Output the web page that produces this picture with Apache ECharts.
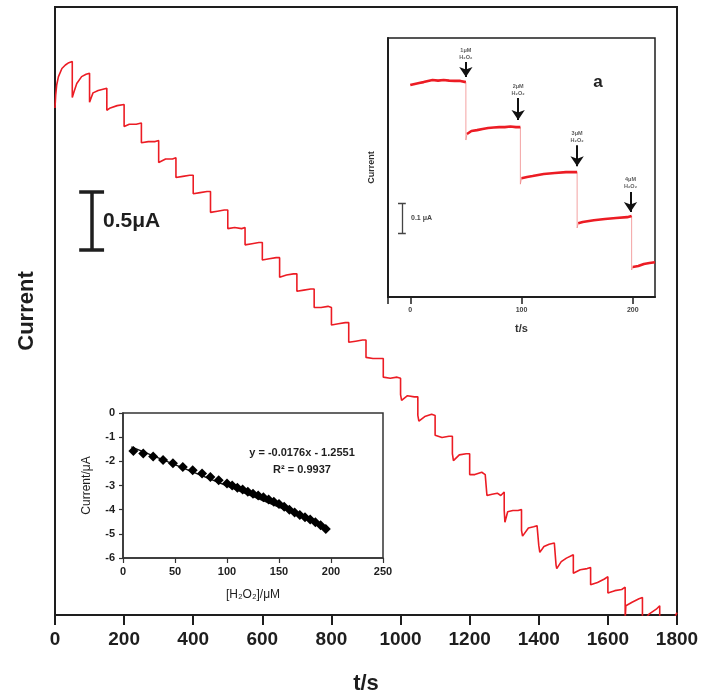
<!DOCTYPE html>
<html>
<head>
<meta charset="utf-8">
<script src="https://cdn.jsdelivr.net/npm/echarts@6.0.0/dist/echarts.min.js"></script>
<style>
  html, body { margin: 0; padding: 0; background: #fff; }
  #chart { width: 701px; height: 700px; }
</style>
</head>
<body>
<div id="chart"></div>
<script>
// main amperometric trace (t in s, current in uA, relative)
const mainTime = [
  0, 2, 5, 10, 20, 30, 40, 50,
  50, 55, 63, 77, 90, 100,
  100, 105, 110, 125, 150,
  150, 160, 180, 200,
  200, 215, 235, 250,
  250, 270, 290, 300,
  300, 320, 340, 350,
  350, 370, 390, 400,
  400, 420, 440, 450,
  450, 470, 490, 500,
  500, 520, 540, 550,
  550, 570, 590, 600,
  600, 620, 640, 650,
  650, 670, 690, 700,
  700, 720, 740, 750,
  750, 770, 790, 800,
  800, 820, 840, 850,
  850, 870, 890, 900,
  900, 920, 940, 950,
  950, 970, 990, 1000,
  1000, 1003, 1020, 1040, 1050,
  1050, 1053, 1070, 1090, 1100,
  1100, 1120, 1140, 1150,
  1150, 1153, 1170, 1190, 1200,
  1200, 1215, 1235, 1245, 1250,
  1250, 1265, 1280, 1290, 1300,
  1300, 1302, 1310, 1325, 1340, 1350,
  1350, 1353, 1370, 1385, 1395, 1400,
  1400, 1403, 1415, 1430, 1445, 1450,
  1450, 1452, 1465, 1480, 1500,
  1500, 1520, 1540, 1550,
  1550, 1570, 1590, 1600,
  1600, 1620, 1640, 1650,
  1650, 1652, 1670, 1690, 1700,
  1700, 1720, 1740, 1750,
  1750, 1770, 1790, 1800
];
const mainCurrent = [
  -0.87, -0.76, -0.67, -0.60, -0.53, -0.50, -0.48, -0.47,
  -0.78, -0.73, -0.66, -0.60, -0.58, -0.57,
  -0.82, -0.78, -0.74, -0.72, -0.70,
  -0.89, -0.87, -0.85, -0.84,
  -1.03, -1.01, -1.01, -1.00,
  -1.17, -1.16, -1.16, -1.15,
  -1.34, -1.31, -1.31, -1.30,
  -1.47, -1.46, -1.45, -1.45,
  -1.61, -1.60, -1.59, -1.59,
  -1.77, -1.76, -1.75, -1.75,
  -1.91, -1.90, -1.91, -1.90,
  -2.05, -2.04, -2.03, -2.03,
  -2.18, -2.17, -2.16, -2.16,
  -2.33, -2.31, -2.30, -2.30,
  -2.45, -2.44, -2.43, -2.43,
  -2.59, -2.59, -2.58, -2.59,
  -2.74, -2.73, -2.72, -2.72,
  -2.89, -2.88, -2.87, -2.87,
  -3.02, -3.03, -3.03, -3.03,
  -3.19, -3.20, -3.19, -3.20,
  -3.34, -3.39, -3.35, -3.36, -3.36,
  -3.52, -3.57, -3.53, -3.51, -3.52,
  -3.69, -3.71, -3.70, -3.70,
  -3.85, -3.91, -3.86, -3.85, -3.85,
  -4.03, -4.03, -4.01, -4.03, -4.02,
  -4.21, -4.20, -4.19, -4.21, -4.18,
  -4.34, -4.44, -4.35, -4.34, -4.34, -4.33,
  -4.51, -4.56, -4.49, -4.48, -4.47, -4.47,
  -4.64, -4.70, -4.65, -4.63, -4.62, -4.62,
  -4.81, -4.84, -4.78, -4.75, -4.72,
  -4.88, -4.85, -4.84, -4.83,
  -4.98, -4.96, -4.93, -4.91,
  -5.05, -5.03, -5.02, -5.00,
  -5.28, -5.16, -5.13, -5.10, -5.09,
  -5.30, -5.23, -5.19, -5.16,
  -5.37, -5.35, -5.28, -5.22
];
const mainTicks = ['0', '200', '400', '600', '800', '1000', '1200', '1400', '1600', '1800'];

// inset a: first four additions
const insetTime = [
  [0, 4, 8, 12, 16, 20, 25, 30, 35, 40, 45, 50],
  [51, 55, 60, 65, 70, 75, 80, 85, 90, 95, 99],
  [100, 105, 110, 120, 130, 140, 150],
  [151, 155, 165, 175, 185, 195, 199],
  [200, 205, 210, 215, 220]
];
const insetCurrent = [
  [-0.157, -0.153, -0.150, -0.147, -0.143, -0.140, -0.142, -0.140, -0.142, -0.143, -0.143, -0.147],
  [-0.320, -0.310, -0.307, -0.303, -0.300, -0.298, -0.297, -0.297, -0.295, -0.297, -0.297],
  [-0.467, -0.463, -0.460, -0.453, -0.450, -0.447, -0.447],
  [-0.617, -0.613, -0.607, -0.603, -0.600, -0.597, -0.593],
  [-0.763, -0.760, -0.753, -0.750, -0.747]
];
const insetSpike = [-0.340, -0.487, -0.633, -0.773];
const arrowTime = [50, 97, 150, 198];
const arrowTop = [-0.080, -0.200, -0.357, -0.513];
const arrowBottom = [-0.130, -0.273, -0.427, -0.580];
const arrowText = ['1μM', '2μM', '3μM', '4μM'];

// calibration inset
const calConc = [10, 19.5, 29, 38.5, 48, 57.5, 67, 76, 84, 92, 100,
  105, 110, 115, 120, 125, 130, 135, 140, 145, 150, 155, 160, 165, 170, 175, 180, 185, 190, 195];
const calCurrent = [-1.57, -1.68, -1.80, -1.94, -2.08, -2.23, -2.37, -2.50, -2.65, -2.78, -2.92,
  -3.00, -3.09, -3.17, -3.26, -3.34, -3.41, -3.49, -3.58, -3.67, -3.77, -3.88, -4.00, -4.12, -4.22,
  -4.31, -4.41, -4.52, -4.64, -4.80];
const trendConc = [8, 196];
const trendCurrent = [-1.40, -4.70];

const FONT = 'Arial, "Liberation Sans", Helvetica, sans-serif';
const RED = '#ec1c24';
const INK = '#1e1e1e';

const chart = echarts.init(document.getElementById('chart'), null, { renderer: 'canvas' });

const insetSeries = insetTime.map((ts, k) => ({
  type: 'line',
  xAxisIndex: 1,
  yAxisIndex: 1,
  showSymbol: false,
  data: ts.map((t, i) => [t, insetCurrent[k][i]]),
  lineStyle: { color: RED, width: 2.6 },
  z: 5
}));

const insetDrops = insetSpike.map((s, k) => {
  const ts = insetTime[k];
  const tEnd = ts[ts.length - 1];
  const vEnd = insetCurrent[k][ts.length - 1];
  return {
    coords: [[tEnd, vEnd], [tEnd, s], [insetTime[k + 1][0], insetCurrent[k + 1][0]]]
  };
});

const option = {
  animation: false,
  backgroundColor: '#fff',
  textStyle: { fontFamily: FONT },
  grid: [
    { left: 55, top: 7, width: 622, height: 608, show: true, borderColor: INK, borderWidth: 2,
      containLabel: false, outerBoundsMode: 'none' },
    { left: 388, top: 38, width: 267, height: 259, show: true, borderColor: INK, borderWidth: 1.5,
      backgroundColor: '#fff', containLabel: false, outerBoundsMode: 'none' },
    { left: 123, top: 413, width: 260, height: 145, show: true, borderColor: '#333', borderWidth: 1.5,
      backgroundColor: '#fff', containLabel: false, outerBoundsMode: 'none' }
  ],
  xAxis: [
    {
      gridIndex: 0, type: 'value', min: 0, max: 1800, interval: 200,
      axisLine: { show: true, onZero: false, lineStyle: { color: INK, width: 2 } },
      axisTick: { show: true, length: 10, lineStyle: { color: INK, width: 2 } },
      axisLabel: {
        fontSize: 19, fontWeight: 'bold', color: INK, margin: 15, fontFamily: FONT,
        showMinLabel: true, showMaxLabel: true,
        formatter: (v) => mainTicks[Math.round(v / 200)]
      },
      splitLine: { show: false },
      name: 't/s', nameLocation: 'middle', nameGap: 58,
      nameTextStyle: { fontSize: 22, fontWeight: 'bold', color: INK, fontFamily: FONT }
    },
    {
      gridIndex: 1, type: 'value', min: -20, max: 220,
      axisLine: { show: true, onZero: false, lineStyle: { color: INK, width: 2 } },
      axisTick: { show: true, length: 7, customValues: [-20, 0, 100, 200], lineStyle: { color: INK, width: 1.5 } },
      axisLabel: { fontSize: 7, fontWeight: 'bold', color: '#444', margin: 10, customValues: [0, 100, 200] },
      splitLine: { show: false },
      name: 't/s', nameLocation: 'middle', nameGap: 26,
      nameTextStyle: { fontSize: 11, fontWeight: 'bold', color: '#333' }
    },
    {
      gridIndex: 2, type: 'value', min: 0, max: 250, interval: 50,
      axisLine: { show: true, onZero: false, lineStyle: { color: '#333', width: 1.5 } },
      axisTick: { show: true, length: 5, lineStyle: { color: '#333', width: 1.2 } },
      axisLabel: { fontSize: 11, fontWeight: 'bold', color: INK, margin: 8, showMinLabel: true, showMaxLabel: true },
      splitLine: { show: false },
      name: '[H₂O₂]/μM', nameLocation: 'middle', nameGap: 31,
      nameTextStyle: { fontSize: 12, color: INK }
    }
  ],
  yAxis: [
    {
      gridIndex: 0, type: 'value', min: -5.24, max: 0,
      axisLine: { show: true, onZero: false, lineStyle: { color: INK, width: 2 } },
      axisTick: { show: false }, axisLabel: { show: false }, splitLine: { show: false },
      name: 'Current', nameLocation: 'middle', nameGap: 17,
      nameTextStyle: { fontSize: 22, fontWeight: 'bold', color: INK, fontFamily: FONT }
    },
    {
      gridIndex: 1, type: 'value', min: -0.863, max: 0,
      axisLine: { show: true, onZero: false, lineStyle: { color: INK, width: 2 } },
      axisTick: { show: false }, axisLabel: { show: false }, splitLine: { show: false },
      name: 'Current', nameLocation: 'middle', nameGap: 12,
      nameTextStyle: { fontSize: 9, fontWeight: 'bold', color: '#333' }
    },
    {
      gridIndex: 2, type: 'value', min: -6, max: 0, interval: 1,
      axisLine: { show: true, onZero: false, lineStyle: { color: '#333', width: 1.5 } },
      axisTick: { show: true, length: 4, lineStyle: { color: '#333', width: 1.2 } },
      axisLabel: { fontSize: 11, fontWeight: 'bold', color: INK, margin: 8, showMinLabel: true, showMaxLabel: true },
      splitLine: { show: false },
      name: 'Current/μA', nameLocation: 'middle', nameGap: 30,
      nameTextStyle: { fontSize: 12, color: INK }
    }
  ],
  series: [
    {
      name: 'trace',
      type: 'line',
      xAxisIndex: 0, yAxisIndex: 0,
      showSymbol: false,
      clip: true,
      data: mainTime.map((t, i) => [t, mainCurrent[i]]),
      lineStyle: { color: RED, width: 1.6 },
      z: 3
    },
    {
      name: 'scale 0.5',
      type: 'lines',
      coordinateSystem: 'cartesian2d',
      xAxisIndex: 0, yAxisIndex: 0,
      polyline: false,
      lineStyle: { color: INK, width: 3.5, opacity: 1 },
      data: [
        { coords: [[70, -1.595], [142, -1.595]] },
        { coords: [[106, -1.595], [106, -2.095]] },
        { coords: [[70, -2.095], [142, -2.095]] }
      ],
      z: 4
    },
    ...insetSeries,
    {
      name: 'inset drops',
      type: 'lines',
      coordinateSystem: 'cartesian2d',
      xAxisIndex: 1, yAxisIndex: 1,
      polyline: true,
      lineStyle: { color: '#f08a8a', width: 0.8, opacity: 1 },
      data: insetDrops,
      z: 4
    },
    {
      name: 'arrows',
      type: 'lines',
      coordinateSystem: 'cartesian2d',
      xAxisIndex: 1, yAxisIndex: 1,
      symbol: ['none', 'arrow'],
      symbolSize: 10,
      lineStyle: { color: '#111', width: 2, opacity: 1 },
      data: arrowTime.map((t, i) => ({ coords: [[t, arrowTop[i]], [t, arrowBottom[i]]] })),
      z: 6
    },
    {
      name: 'arrow labels',
      type: 'scatter',
      xAxisIndex: 1, yAxisIndex: 1,
      symbolSize: 1,
      itemStyle: { color: 'rgba(0,0,0,0)' },
      data: arrowTime.map((t, i) => [t, arrowTop[i], arrowText[i]]),
      label: {
        show: true, position: 'top', distance: 1,
        formatter: (p) => p.value[2] + '\nH₂O₂',
        fontSize: 5.5, lineHeight: 7, color: '#333', fontWeight: 'bold', align: 'center'
      },
      z: 6
    },
    {
      name: 'scale 0.1',
      type: 'lines',
      coordinateSystem: 'cartesian2d',
      xAxisIndex: 1, yAxisIndex: 1,
      lineStyle: { color: '#444', width: 1.3, opacity: 1 },
      data: [
        { coords: [[-11, -0.55], [-4, -0.55]] },
        { coords: [[-7.5, -0.55], [-7.5, -0.65]] },
        { coords: [[-11, -0.65], [-4, -0.65]] }
      ],
      z: 4
    },
    {
      name: 'fit',
      type: 'line',
      xAxisIndex: 2, yAxisIndex: 2,
      showSymbol: false,
      data: trendConc.map((c, i) => [c, trendCurrent[i]]),
      lineStyle: { color: '#111', width: 1.5 },
      z: 4
    },
    {
      name: 'calibration',
      type: 'scatter',
      xAxisIndex: 2, yAxisIndex: 2,
      symbol: 'diamond',
      symbolSize: 10,
      itemStyle: { color: '#000', opacity: 1 },
      data: calConc.map((c, i) => [c, calCurrent[i]]),
      z: 5
    }
  ],
  graphic: [
    {
      type: 'text', x: 103, y: 221, z: 10,
      style: { text: '0.5μA', font: 'bold 21px ' + FONT, fill: INK, textVerticalAlign: 'middle', verticalAlign: 'middle' }
    },
    {
      type: 'text', x: 598, y: 82, z: 10,
      style: { text: 'a', font: 'bold 17px ' + FONT, fill: '#222', textAlign: 'center', align: 'center',
        textVerticalAlign: 'middle', verticalAlign: 'middle' }
    },
    {
      type: 'text', x: 411, y: 218, z: 10,
      style: { text: '0.1 μA', font: 'bold 7px ' + FONT, fill: '#444', textVerticalAlign: 'middle', verticalAlign: 'middle' }
    },
    {
      type: 'text', x: 302, y: 453, z: 10,
      style: { text: 'y = -0.0176x - 1.2551', font: 'bold 11px ' + FONT, fill: INK, textAlign: 'center', align: 'center',
        textVerticalAlign: 'middle', verticalAlign: 'middle' }
    },
    {
      type: 'text', x: 302, y: 470, z: 10,
      style: { text: 'R² = 0.9937', font: 'bold 11px ' + FONT, fill: INK, textAlign: 'center', align: 'center',
        textVerticalAlign: 'middle', verticalAlign: 'middle' }
    }
  ]
};

chart.setOption(option);
</script>
</body>
</html>
